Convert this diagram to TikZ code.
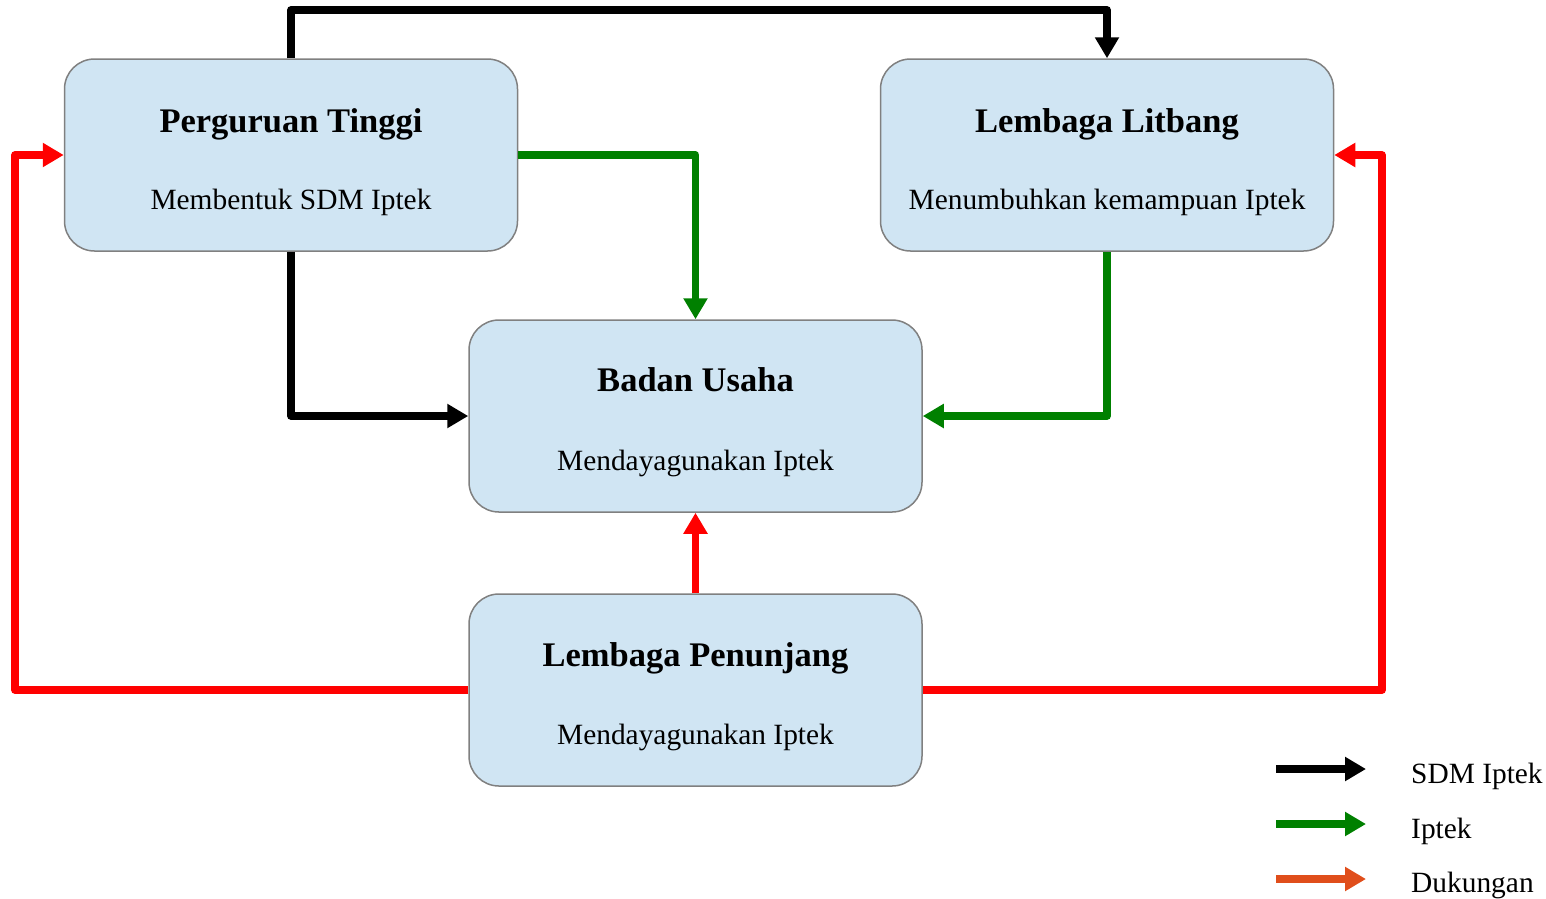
\documentclass[tikz,border=0pt]{standalone}
\usepackage{fontspec}
\setmainfont{Liberation Serif}
\usetikzlibrary{arrows.meta}
\definecolor{boxfill}{HTML}{D0E5F3}
\definecolor{boxline}{HTML}{808080}
\definecolor{ipgreen}{HTML}{008000}
\definecolor{supred}{HTML}{FF0000}
\definecolor{legorange}{HTML}{E04E1B}
\tikzset{
  unit/.style={draw=boxline, line width=1.5pt, fill=boxfill, rounded corners=30pt,
    minimum width=453pt, minimum height=192pt, inner sep=0pt},
  title/.style={font=\fontsize{34.5}{40}\selectfont\bfseries, anchor=base},
  subtitle/.style={font=\fontsize{29.4}{34}\selectfont, anchor=base},
  legtext/.style={font=\fontsize{29.4}{34}\selectfont, anchor=base west, inner sep=0pt},
  flow/.style={line width=7.5pt, line join=round, -{Triangle[length=21pt,width=23pt]}},
  sdm/.style={flow, draw=black},
  iptek/.style={flow, draw=ipgreen},
  dukung/.style={flow, draw=supred},
}
\begin{document}
\begin{tikzpicture}[x=1pt,y=-1pt]
\useasboundingbox (0,0) rectangle (1546,898);

% institutions
\node[unit] (pt) at (291,155) {};
\node[unit] (ll) at (1107,155) {};
\node[unit] (bu) at (695.5,416) {};
\node[unit] (lp) at (695.5,690) {};

\node[title] (ptT) at (291,132) {Perguruan Tinggi};
\node[subtitle] (ptS) at (291,209) {Membentuk SDM Iptek};
\node[title] (llT) at (1107,132) {Lembaga Litbang};
\node[subtitle] (llS) at (1107,209) {Menumbuhkan kemampuan Iptek};
\node[title] (buT) at (695.5,391) {Badan Usaha};
\node[subtitle] (buS) at (695.5,470) {Mendayagunakan Iptek};
\node[title] (lpT) at (695.5,666) {Lembaga Penunjang};
\node[subtitle] (lpS) at (695.5,744) {Mendayagunakan Iptek};

% SDM Iptek flows
\coordinate (topL) at (291,10);
\draw[sdm] (pt.north) -- (topL) -| (ll.north);
\draw[sdm] (pt.south) |- (bu.west);

% Iptek flows
\draw[iptek] (pt.east) -| (bu.north);
\draw[iptek] (ll.south) |- (bu.east);

% support flows
\coordinate (leftRail) at (15,690);
\coordinate (rightRail) at (1382,690);
\draw[dukung] (lp.north) -- (bu.south);
\draw[dukung] (lp.west) -- (leftRail) |- (pt.west);
\draw[dukung] (lp.east) -- (rightRail) |- (ll.east);

% legend
\coordinate (l1a) at (1276,769); \coordinate (l1b) at (1366,769);
\coordinate (l2a) at (1276,824); \coordinate (l2b) at (1366,824);
\coordinate (l3a) at (1276,879); \coordinate (l3b) at (1366,879);
\draw[sdm] (l1a) -- (l1b);
\draw[iptek] (l2a) -- (l2b);
\draw[flow, draw=legorange] (l3a) -- (l3b);
\node[legtext] (lg1) at (1411,783) {SDM Iptek};
\node[legtext] (lg2) at (1411,838) {Iptek};
\node[legtext] (lg3) at (1411,892) {Dukungan};
\end{tikzpicture}
\end{document}
